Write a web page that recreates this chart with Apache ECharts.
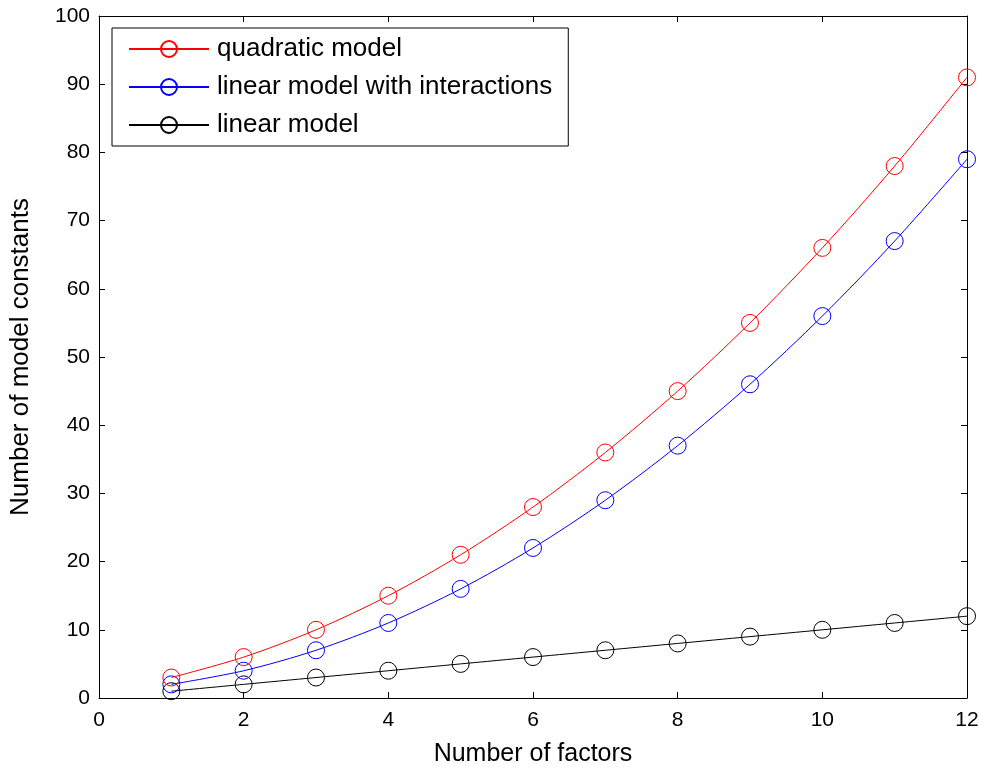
<!DOCTYPE html>
<html><head><meta charset="utf-8">
<script src="https://cdn.jsdelivr.net/npm/echarts@6/dist/echarts.min.js"></script>
<style>html,body{margin:0;padding:0;background:#fff}#c{width:984px;height:774px}</style>
</head><body><div id="c"></div>
<script>
const factors = [1,2,3,4,5,6,7,8,9,10,11,12];
const quadratic = [3,6,10,15,21,28,36,45,55,66,78,91];
const linearInteractions = [2,4,7,11,16,22,29,37,46,56,67,79];
const linear = [1,2,3,4,5,6,7,8,9,10,11,12];
const seriesNames = ['quadratic model','linear model with interactions','linear model'];

const font = 'Arial, "Liberation Sans", sans-serif';
const colors = ['#ff0000','#0000ff','#000000'];
const datas = [quadratic, linearInteractions, linear];

function mkAxis(extra){
  return Object.assign({
    type:'value',
    axisLine:{show:true,onZero:false,lineStyle:{color:'#000',width:1}},
    axisTick:{show:true,inside:true,length:6,lineStyle:{color:'#000',width:1}},
    splitLine:{show:false}
  }, extra);
}
const chart = echarts.init(document.getElementById('c'));
chart.setOption({
  animation:false,
  backgroundColor:'#fff',
  grid:{left:98,right:17,top:16,bottom:76,containLabel:false},
  legend:{
    left:112, top:28, orient:'vertical',
    data:seriesNames,
    itemWidth:80, itemHeight:20, itemGap:12,
    padding:[8,16,8,16],
    borderColor:'#000', borderWidth:1, backgroundColor:'#fff',
    textStyle:{fontFamily:font,fontSize:26,lineHeight:26,color:'#000',padding:[0,0,0,3]}
  },
  xAxis:[
    mkAxis({min:0,max:12,interval:2,position:'bottom',
      name:'Number of factors',nameLocation:'middle',nameGap:44,
      nameTextStyle:{fontFamily:font,fontSize:25,color:'#000'},
      axisLabel:{fontFamily:font,fontSize:21,color:'#000',margin:12}}),
    mkAxis({min:0,max:12,interval:2,position:'top',
      axisLabel:{show:false}})
  ],
  yAxis:[
    mkAxis({min:0,max:100,interval:10,position:'left',
      name:'Number of model constants',nameLocation:'middle',nameGap:65,
      nameTextStyle:{fontFamily:font,fontSize:26,color:'#000'},
      axisLabel:{fontFamily:font,fontSize:21,color:'#000',margin:9}}),
    mkAxis({min:0,max:100,interval:10,position:'right',
      axisLabel:{show:false}})
  ],
  series: seriesNames.map((n,i)=>({
    name:n, type:'line', smooth:0.3,
    xAxisIndex:0, yAxisIndex:0,
    data: factors.map((x,j)=>[x, datas[i][j]]),
    symbol:'circle', symbolSize:17,
    lineStyle:{color:colors[i],width:1},
    itemStyle:{color:'rgba(0,0,0,0)',borderColor:colors[i],borderWidth:1},
    emphasis:{disabled:true},
    z: 3-i
  }))
});
</script></body></html>
